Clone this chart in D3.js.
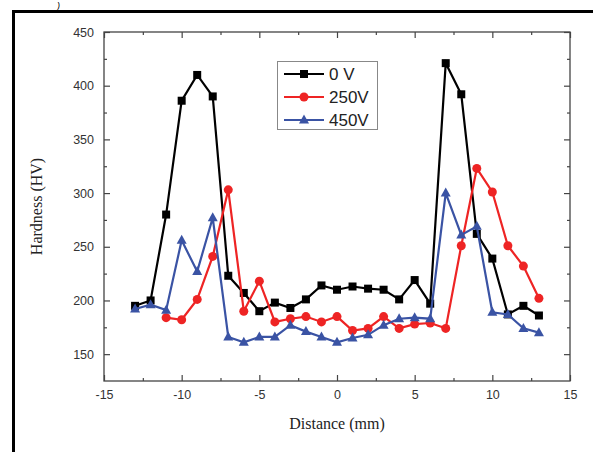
<!DOCTYPE html>
<html><head><meta charset="utf-8">
<script src="https://cdn.jsdelivr.net/npm/d3@7"></script>
<style>body{margin:0;background:#fff}svg{display:block}</style>
</head><body>
<script>
const xs = [-13,-12,-11,-10,-9,-8,-7,-6,-5,-4,-3,-2,-1,0,1,2,3,4,5,6,7,8,9,10,11,12,13];
const v0 = [195,200,280,386,410,390,223,207,190,198,193,201,214,210,213,211,210,201,219,197,421,392,262,239,187,195,186];
const xs250 = [-11,-10,-9,-8,-7,-6,-5,-4,-3,-2,-1,0,1,2,3,4,5,6,7,8,9,10,11,12,13];
const v250 = [184,182,201,241,303,190,218,180,183,185,180,185,172,174,185,174,178,179,174,251,323,301,251,232,202];
const v450 = [192,196,191,256,227,277,166,161,166,166,177,171,166,161,165,168,177,183,184,183,300,261,269,189,187,174,170];
const series = [
  {name:"0 V", x:xs, y:v0, color:"#000000", shape:"square"},
  {name:"250V", x:xs250, y:v250, color:"#ee2424", shape:"circle"},
  {name:"450V", x:xs, y:v450, color:"#3a53a4", shape:"triangle"}
];
const xTicks = [-15,-10,-5,0,5,10,15];
const yTicks = [150,200,250,300,350,400,450];

const W=593,H=452;
const svg=d3.select("body").append("svg").attr("width",W).attr("height",H);
svg.append("path").attr("d","M13.5,460 L13.5,11.5 L600,11.5").attr("fill","none").attr("stroke","#000").attr("stroke-width",3);
svg.append("text").attr("x",57).attr("y",9).attr("font-family","Liberation Sans, Arial").attr("font-size",9).attr("font-style","italic").text(")");

const L=104,R=570,T=32,B=381;
const x=d3.scaleLinear().domain([-15,15]).range([L,R]);
const y=d3.scaleLinear().domain([125,450]).range([B,T]);
const axColor="#444";
const g=svg.append("g");
g.append("rect").attr("x",L).attr("y",T).attr("width",R-L).attr("height",B-T).attr("fill","none").attr("stroke",axColor).attr("stroke-width",1.3);

function styleAxis(sel){sel.select(".domain").remove();sel.selectAll("line").attr("stroke",axColor).attr("stroke-width",1.2);sel.selectAll("text").attr("font-family","Liberation Sans, Arial").attr("font-size",12.5).attr("fill","#333");}
const xMinor=d3.range(-12.5,15,5);
const yMinor=[175,225,275,325,375,425];
const fmt=d=>String(d);
g.append("g").attr("transform",`translate(0,${B})`).call(d3.axisBottom(x).tickValues(xTicks).tickSizeInner(-6).tickSizeOuter(0).tickPadding(9).tickFormat(fmt)).call(styleAxis);
g.append("g").attr("transform",`translate(0,${B})`).call(d3.axisBottom(x).tickValues(xMinor).tickSizeInner(-3).tickSizeOuter(0).tickFormat("")).call(styleAxis);
g.append("g").attr("transform",`translate(0,${T})`).call(d3.axisTop(x).tickValues(xTicks).tickSizeInner(-6).tickSizeOuter(0).tickFormat("")).call(styleAxis);
g.append("g").attr("transform",`translate(0,${T})`).call(d3.axisTop(x).tickValues(xMinor).tickSizeInner(-3).tickSizeOuter(0).tickFormat("")).call(styleAxis);
g.append("g").attr("transform",`translate(${L},0)`).call(d3.axisLeft(y).tickValues(yTicks).tickSizeInner(-6).tickSizeOuter(0).tickPadding(10).tickFormat(fmt)).call(styleAxis);
g.append("g").attr("transform",`translate(${L},0)`).call(d3.axisLeft(y).tickValues(yMinor).tickSizeInner(-3).tickSizeOuter(0).tickFormat("")).call(styleAxis);
g.append("g").attr("transform",`translate(${R},0)`).call(d3.axisRight(y).tickValues(yTicks).tickSizeInner(-6).tickSizeOuter(0).tickFormat("")).call(styleAxis);
g.append("g").attr("transform",`translate(${R},0)`).call(d3.axisRight(y).tickValues(yMinor).tickSizeInner(-3).tickSizeOuter(0).tickFormat("")).call(styleAxis);

svg.append("text").attr("x",(L+R)/2).attr("y",429).attr("text-anchor","middle").attr("font-family","Liberation Serif, Times New Roman").attr("font-size",16).attr("fill","#222").text("Distance (mm)");
svg.append("text").attr("transform",`translate(42,${(T+B)/2}) rotate(-90)`).attr("text-anchor","middle").attr("font-family","Liberation Serif, Times New Roman").attr("font-size",16).attr("fill","#222").text("Hardness (HV)");

function marker(sel,shape,color){
  if(shape==="square") sel.append("rect").attr("x",-4).attr("y",-4).attr("width",8).attr("height",8).attr("fill",color);
  else if(shape==="circle") sel.append("circle").attr("r",4.5).attr("fill",color);
  else sel.append("path").attr("d","M0,-5.5 L5,3.5 L-5,3.5 Z").attr("fill",color);
}
const line=d3.line();
series.forEach(s=>{
  const pts=s.x.map((xv,i)=>[x(xv),y(s.y[i])]);
  svg.append("path").attr("d",line(pts)).attr("fill","none").attr("stroke",s.color).attr("stroke-width",2.2);
  pts.forEach(p=>{marker(svg.append("g").attr("transform",`translate(${p[0]},${p[1]})`),s.shape,s.color);});
});

const lg=svg.append("g");
lg.append("rect").attr("x",277.5).attr("y",61.5).attr("width",100).attr("height",68).attr("fill","#fff").attr("stroke","#888").attr("stroke-width",1);
series.forEach((s,i)=>{
  const yy=74+i*23;
  lg.append("line").attr("x1",284).attr("x2",324).attr("y1",yy).attr("y2",yy).attr("stroke",s.color).attr("stroke-width",2.2);
  marker(lg.append("g").attr("transform",`translate(304,${yy})`),s.shape,s.color);
  lg.append("text").attr("x",329).attr("y",yy+6).attr("font-family","Liberation Sans, Arial").attr("font-size",17).attr("fill","#222").text(s.name);
});
</script>
</body></html>
